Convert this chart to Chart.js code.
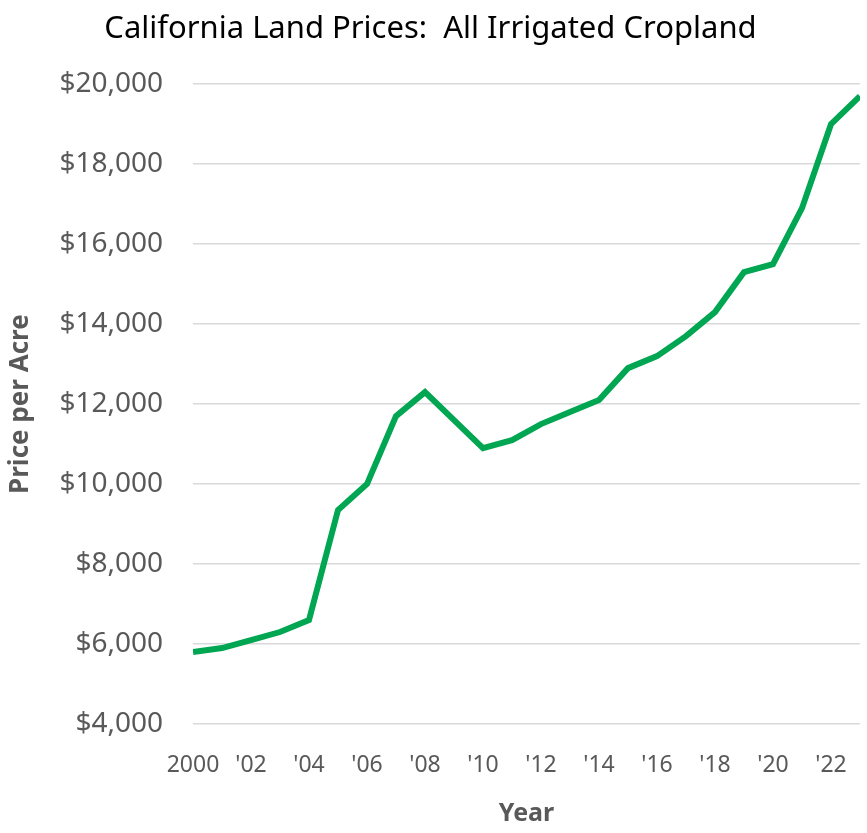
<!DOCTYPE html>
<html>
<head>
<meta charset="utf-8">
<script src="https://cdn.jsdelivr.net/npm/chart.js@4"></script>
<style>
  html, body { margin: 0; padding: 0; background: #fff; }
  #wrap { width: 867px; height: 833px; }
</style>
</head>
<body>
<div id="wrap"><canvas id="landChart" width="867" height="833"></canvas></div>
<script>
const years = [2000, 2001, 2002, 2003, 2004, 2005, 2006, 2007, 2008, 2009, 2010, 2011,
               2012, 2013, 2014, 2015, 2016, 2017, 2018, 2019, 2020, 2021, 2022, 2023];
const prices = [5800, 5900, 6100, 6300, 6600, 9350, 10000, 11700, 12300, 11600, 10900, 11100,
                11500, 11800, 12100, 12900, 13200, 13700, 14300, 15300, 15500, 16900, 19000, 19700];

const textGrey = "#595959";

new Chart(document.getElementById("landChart"), {
    type: "line",
    data: {
        datasets: [
            {
                label: "All Irrigated Cropland",
                data: years.map((yr, i) => ({ x: yr, y: prices[i] })),
                borderColor: "#00a651",
                borderWidth: 6,
                pointRadius: 0,
                tension: 0,
                fill: false,
            },
        ],
    },
    options: {
        responsive: false,
        animation: false,
        layout: {
            padding: { left: 0, right: 6, top: 0, bottom: 0 },
        },
        scales: {
            x: {
                type: "linear",
                min: 2000,
                max: 2023,
                grid: { display: false },
                border: { display: false },
                ticks: {
                    stepSize: 2,
                    includeBounds: false,
                    autoSkip: false,
                    maxRotation: 0,
                    padding: 20,
                    color: textGrey,
                    font: { family: "Noto Sans", size: 23 },
                    callback: function (v) {
                        return v === 2000 ? "2000" : "'" + String(v).slice(2);
                    },
                },
                title: {
                    display: true,
                    text: "Year",
                    color: textGrey,
                    font: { family: "Noto Sans", size: 25, weight: "bold" },
                    padding: { top: 0, bottom: 4 },
                },
                afterFit: function (scale) {
                    scale.height = 109;
                },
            },
            y: {
                min: 4000,
                max: 20000,
                grid: {
                    color: "#d9d9d9",
                    lineWidth: 1.5,
                    drawTicks: false,
                },
                border: { display: false },
                ticks: {
                    stepSize: 2000,
                    padding: 30,
                    color: textGrey,
                    font: { family: "Noto Sans", size: 28 },
                    callback: function (v) {
                        return "$" + v.toLocaleString("en-US");
                    },
                },
                title: {
                    display: true,
                    text: "Price per Acre",
                    color: textGrey,
                    font: { family: "Noto Sans", size: 26, weight: "bold" },
                    padding: { top: 5, bottom: 0 },
                },
                afterFit: function (scale) {
                    scale.width = 193;
                },
            },
        },
        plugins: {
            legend: { display: false },
            tooltip: { enabled: false },
            title: {
                display: true,
                text: "California Land Prices:  All Irrigated Cropland",
                color: "#000000",
                font: { family: "Noto Sans", size: 31, weight: "normal" },
                padding: { top: 11, bottom: 36 },
            },
        },
    },
});
</script>
</body>
</html>
